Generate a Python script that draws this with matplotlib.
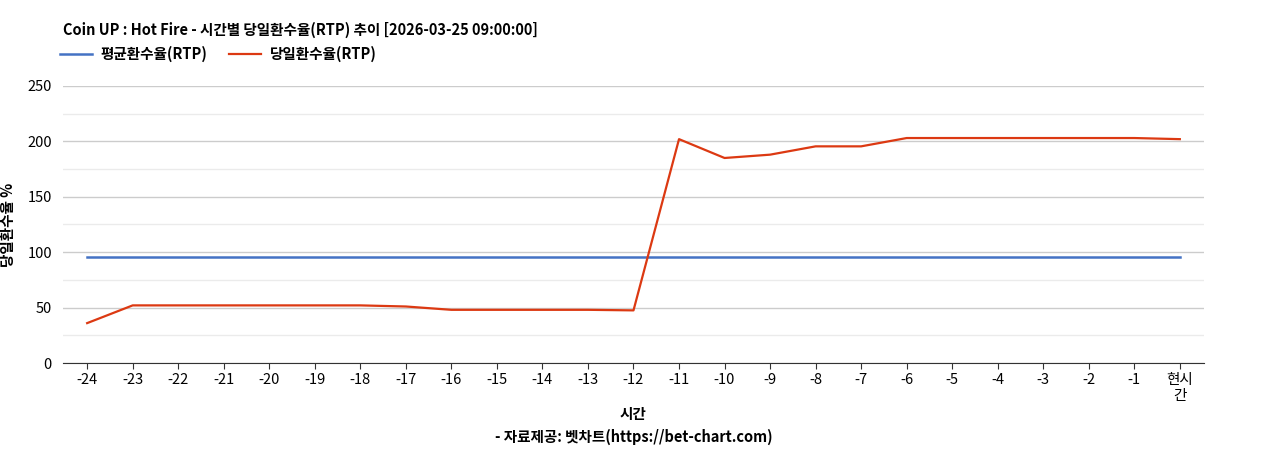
import matplotlib.pyplot as plt
from matplotlib.ticker import MultipleLocator

plt.rcParams['font.family'] = ['Noto Sans CJK KR', 'DejaVu Sans']

labels = [str(i) for i in range(-24, 0)] + ['현시\n간']
avg_rtp = [96] * 25
day_rtp = [36, 52, 52, 52, 52, 52, 52, 51, 48, 48, 48, 48, 47.5,
           202, 185, 188, 195.5, 195.5, 203, 203, 203, 203, 203, 203, 202]

fig = plt.figure(figsize=(12.68, 4.5), dpi=100)
ax = fig.add_axes([0.0497, 0.1933, 0.8998, 0.6157])
x = range(len(labels))
ax.plot(x, avg_rtp, color='#4472c4', linewidth=1.8, label='평균환수율(RTP)')
ax.plot(x, day_rtp, color='#dc3912', linewidth=1.6, label='당일환수율(RTP)')

ax.set_xlim(-0.53, 24.53)
ax.set_ylim(0, 250)
ax.yaxis.set_major_locator(MultipleLocator(50))
ax.yaxis.set_minor_locator(MultipleLocator(25))
ax.grid(axis='y', which='major', color='#cccccc', linewidth=1)
ax.grid(axis='y', which='minor', color='#ebebeb', linewidth=1)
ax.set_axisbelow(True)
ax.set_xticks(list(x))
ax.set_xticklabels(labels, fontsize=10.5, linespacing=1.1)
ax.tick_params(axis='y', which='both', length=0, labelsize=10.5, pad=8)
ax.tick_params(axis='x', length=4, color='#333333')
for s in ['top', 'right', 'left']:
    ax.spines[s].set_visible(False)
ax.spines['bottom'].set_color('#333333')

ax.set_ylabel('당일환수율 %', fontsize=10.5, fontweight='bold', labelpad=8)
fig.text(0.0497, 0.933, 'Coin UP : Hot Fire - 시간별 당일환수율(RTP) 추이 [2026-03-25 09:00:00]',
         fontsize=10.5, fontweight='bold', va='center')
ax.legend(loc='lower left', bbox_to_anchor=(-0.003, 1.085), ncol=2, frameon=False,
          prop={'size': 10.5, 'weight': 'bold'}, handlelength=2.2, columnspacing=1.5,
          handletextpad=0.6, borderaxespad=0, borderpad=0)
fig.text(0.4995, 0.08, '시간', fontsize=10.5, fontweight='bold', ha='center', va='center')
fig.text(0.4995, 0.029, '- 자료제공: 벳차트(https://bet-chart.com)', fontsize=10.5,
         fontweight='bold', ha='center', va='center')

fig.savefig('out.png', dpi=100)
